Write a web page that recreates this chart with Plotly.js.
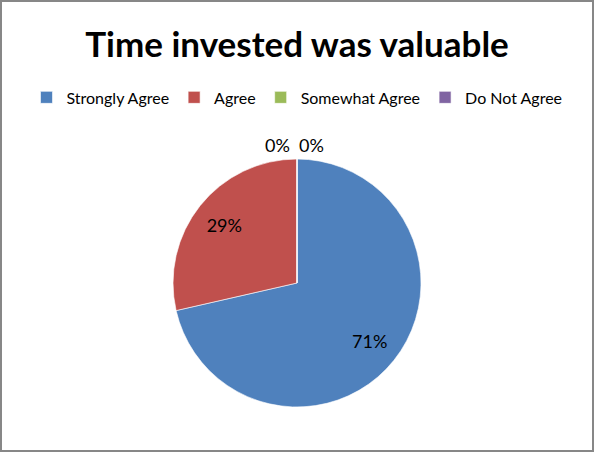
<!DOCTYPE html>
<html>
<head>
<meta charset="utf-8">
<script src="https://cdn.plot.ly/plotly-3.0.1.min.js"></script>
<style>
  html, body { margin: 0; padding: 0; background: #fff; }
  #wrap { position: relative; width: 594px; height: 452px; }
  #chart { position: absolute; left: 0; top: 0; width: 594px; height: 452px; }
  #frame { position: absolute; left: 0; top: 0; width: 594px; height: 452px; box-sizing: border-box; border: 2px solid #878787; pointer-events: none; }
</style>
</head>
<body>
<div id="wrap"><div id="chart"></div><div id="frame"></div></div>
<script>
const categories = ["Strongly Agree", "Agree", "Somewhat Agree", "Do Not Agree"];
const counts = [5, 2, 0, 0];
const colors = ["#4F81BD", "#C0504D", "#9BBB59", "#8064A2"];
const chartTitle = "Time invested was valuable";

const FONT = "Lato, 'Open Sans', sans-serif";
const pieDomain = { x: [0.2912, 0.7088], y: [0.0996, 0.6482] };
const total = counts.reduce((a, b) => a + b, 0);

// Main pie: colored slices and legend
const pieTrace = {
  type: "pie",
  labels: categories,
  values: counts,
  sort: false,
  direction: "clockwise",
  rotation: 0,
  marker: { colors: colors, line: { color: "#ffffff", width: 0.6 } },
  textinfo: "none",
  domain: pieDomain,
  hoverinfo: "label+percent",
  showlegend: true
};

// Transparent ring overlay used only to place percentage labels further out
const labelTrace = {
  type: "pie",
  labels: categories,
  values: counts,
  sort: false,
  direction: "clockwise",
  rotation: 0,
  hole: 0.5,
  marker: { colors: categories.map(() => "rgba(0,0,0,0)"), line: { width: 0 } },
  texttemplate: counts.map(v => v > 0 ? "%{percent:.0%}" : ""),
  textposition: "inside",
  insidetextorientation: "horizontal",
  textfont: { family: FONT, size: 18, color: "#000000" },
  domain: pieDomain,
  hoverinfo: "skip",
  showlegend: false
};

// Zero-valued categories: labels drawn side by side above the pie top
const zeroIdx = counts.map((v, i) => v === 0 ? i : -1).filter(i => i >= 0);
const zeroX = [0.468, 0.525];
const annotations = zeroIdx.map((idx, k) => ({
  text: Math.round(100 * counts[idx] / total) + "%",
  xref: "paper", yref: "paper",
  x: zeroX[k] !== undefined ? zeroX[k] : 0.5,
  y: 0.679,
  xanchor: "center", yanchor: "middle",
  showarrow: false,
  font: { family: FONT, size: 18, color: "#000000" }
}));

const layout = {
  width: 594,
  height: 452,
  margin: { l: 0, r: 0, t: 0, b: 0 },
  paper_bgcolor: "#ffffff",
  font: { family: FONT, color: "#000000" },
  title: {
    text: "<b>" + chartTitle + "</b>",
    font: { family: FONT, size: 35, color: "#000000" },
    x: 0.5, xanchor: "center",
    y: 0.9, yanchor: "middle"
  },
  legend: {
    orientation: "h",
    x: 0.5, xanchor: "center",
    y: 0.822, yanchor: "top",
    font: { family: FONT, size: 16, color: "#000000" },
    itemwidth: 30,
    traceorder: "normal"
  },
  annotations: annotations
};

Plotly.newPlot("chart", [pieTrace, labelTrace], layout, { displayModeBar: false, staticPlot: true });
</script>
</body>
</html>
